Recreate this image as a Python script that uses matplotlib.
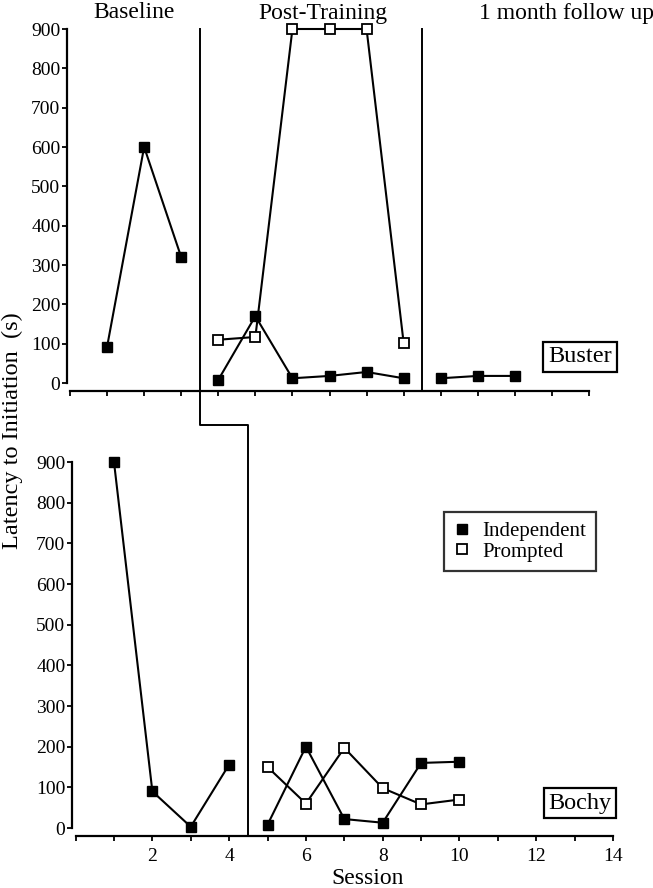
import numpy as np
import matplotlib
matplotlib.use("Agg")
import matplotlib.pyplot as plt
from matplotlib.lines import Line2D

plt.rcParams["font.family"] = ["Liberation Serif", "DejaVu Serif"]

# ---- Buster (top panel) ----
buster_base_x = [1, 2, 3]
buster_base_ind = [92, 600, 320]
buster_post_x = [4, 5, 6, 7, 8, 9]
buster_post_ind = [8, 170, 12, 18, 28, 12]
buster_post_prm = [110, 117, 900, 900, 900, 102]
buster_follow_x = [10, 11, 12]
buster_follow_ind = [12, 18, 18]

# ---- Bochy (bottom panel) ----
bochy_base_x = [1, 2, 3, 4]
bochy_base_ind = [900, 90, 3, 156]
bochy_post_x = [5, 6, 7, 8, 9, 10]
bochy_post_ind = [8, 200, 22, 13, 160, 163]
bochy_post_prm = [150, 60, 197, 98, 58, 70]

# phase change positions
buster_phase1 = 3.5
buster_phase2 = 9.5
bochy_phase1 = 4.5

W, H = 653, 888
fig = plt.figure(figsize=(W / 100, H / 100), dpi=100)


def px_axes(x0, y_top, x1, y_bot):
    return fig.add_axes([x0 / W, 1 - y_bot / H, (x1 - x0) / W, (y_bot - y_top) / H])


ax1 = px_axes(70, 29, 589, 383)
ax2 = px_axes(75.6, 462, 613, 828)

lw = 1.5
ind_kw = dict(color="black", lw=lw, marker="s", ms=7.5, mfc="black", mec="black", clip_on=False, zorder=3)
prm_kw = dict(color="black", lw=lw, marker="s", ms=7.5, mfc="white", mec="black", mew=1.3, clip_on=False, zorder=3)

for ax, lo in [(ax1, 2.2), (ax2, 2.6)]:
    ax.set_xlim(0, 14)
    ax.set_ylim(0, 900)
    ax.spines["top"].set_visible(False)
    ax.spines["right"].set_visible(False)
    ax.spines["left"].set_position(("outward", lo))
    ax.spines["bottom"].set_position(("outward", 5.8))
    ax.spines["left"].set_linewidth(1.6)
    ax.spines["bottom"].set_linewidth(1.6)
    ax.set_yticks(np.arange(0, 1000, 100))
    ax.set_xticks(np.arange(0, 15, 1))
    ax.tick_params(axis="both", direction="out", length=3.5, width=1.3, labelsize=14, pad=1.2)
    ax.patch.set_alpha(0)

ax1.set_xticklabels([])
ax2.set_xticklabels([str(v) if (v % 2 == 0 and v > 0) else "" for v in range(15)])
ax2.tick_params(axis="x", pad=5)

# top panel data
ax1.plot(buster_base_x, buster_base_ind, **ind_kw)
ax1.plot(buster_post_x, buster_post_prm, **prm_kw)
ax1.plot(buster_post_x, buster_post_ind, **ind_kw)
ax1.plot(buster_follow_x, buster_follow_ind, **ind_kw)

# bottom panel data
ax2.plot(bochy_base_x, bochy_base_ind, **ind_kw)
ax2.plot(bochy_post_x, bochy_post_prm, **prm_kw)
ax2.plot(bochy_post_x, bochy_post_ind, **ind_kw)

# second phase line (top panel)
ax1.plot([buster_phase2, buster_phase2], [900, -20.5], color="black", lw=1.4, clip_on=False)

# staggered phase change line connecting the panels
to_fig = fig.transFigure.inverted()
p_top = to_fig.transform(ax1.transData.transform((buster_phase1, 900)))
x_top = p_top[0]
x_bot = to_fig.transform(ax2.transData.transform((bochy_phase1, 0)))[0]
y_step = 1 - 425 / H
y_end = 1 - 836 / H
fig.add_artist(Line2D([x_top, x_top, x_bot, x_bot], [p_top[1], y_step, y_step, y_end],
                      color="black", lw=1.4, transform=fig.transFigure))

# phase labels
fig.text(134 / W, 1 - 13 / H, "Baseline", fontsize=17, ha="center", va="center")
fig.text(323 / W, 1 - 13 / H, "Post-Training", fontsize=17, ha="center", va="center")
fig.text(479 / W, 1 - 13 / H, "1 month follow up", fontsize=17, ha="left", va="center")

# participant labels
box = dict(boxstyle="square,pad=0.2", fc="white", ec="black", lw=1.6)
fig.text(580 / W, 1 - 357 / H, "Buster", fontsize=17.5, ha="center", va="center", bbox=box)
fig.text(580 / W, 1 - 803 / H, "Bochy", fontsize=17.5, ha="center", va="center", bbox=box)

# legend
handles = [
    Line2D([0], [0], marker="s", color="black", linestyle="None", ms=7.5, mfc="black", label="Independent"),
    Line2D([0], [0], marker="s", color="black", linestyle="None", ms=7.5, mfc="white", mew=1.3, label="Prompted"),
]
leg = fig.legend(handles=handles, loc="upper left", bbox_to_anchor=(444 / W, 1 - 512 / H),
                 bbox_transform=fig.transFigure, borderaxespad=0, fancybox=False, frameon=True,
                 fontsize=15, handlelength=0.8, handletextpad=0.6, labelspacing=0.05,
                 borderpad=0.45)
leg.get_frame().set_edgecolor("black")
leg.get_frame().set_linewidth(1.6)

fig.text(12 / W, 1 - 431 / H, "Latency to Initiation  (s)", fontsize=17.5, rotation=90,
         ha="center", va="center")
fig.text(368 / W, 1 - 878 / H, "Session", fontsize=17, ha="center", va="center")

fig.savefig("out.png", dpi=100)
